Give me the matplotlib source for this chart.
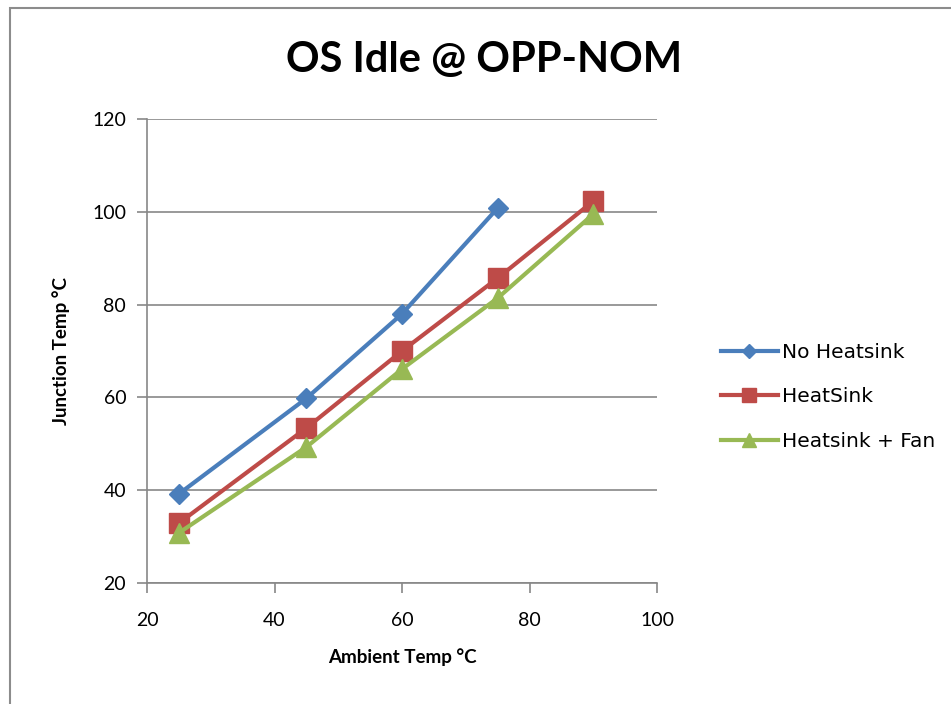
import matplotlib
matplotlib.use("Agg")
import matplotlib.pyplot as plt
from matplotlib.patches import Rectangle

ambient = [25, 45, 60, 75, 90]
no_heatsink = [39.2, 59.8, 78.0, 100.8]
heatsink = [32.9, 53.4, 70.0, 85.7, 102.3]
heatsink_fan = [30.8, 49.3, 66.1, 81.4, 99.5]
series_names = ["No Heatsink", "HeatSink", "Heatsink + Fan"]
x_ticks = [20, 40, 60, 80, 100]
y_ticks = [20, 40, 60, 80, 100, 120]

plt.rcParams['font.family'] = ['Lato', 'DejaVu Sans']

W, H = 951, 704
fig = plt.figure(figsize=(W/100, H/100), dpi=100)
fig.patches.append(Rectangle((10/W, -0.1), 1.2, 1 - 8/H + 0.1, transform=fig.transFigure,
                             fill=False, edgecolor='#8c8c8c', linewidth=1.5))

L, R, T, B = 147, 657, 119, 583
ax = fig.add_axes([L/W, 1 - B/H, (R-L)/W, (B-T)/H])

blue, red, green = '#4A7EBB', '#BE4B48', '#98B954'
ax.plot(ambient[:4], no_heatsink, color=blue, lw=3, marker='D', ms=10, label=series_names[0])
ax.plot(ambient, heatsink, color=red, lw=3, marker='s', ms=14, label=series_names[1])
ax.plot(ambient, heatsink_fan, color=green, lw=3, marker='^', ms=14, label=series_names[2])

ax.set_xlim(20, 100)
ax.set_ylim(20, 120)
ax.set_xticks(x_ticks)
ax.set_yticks(y_ticks)
ax.yaxis.grid(True, color='#878787', lw=1.2)
ax.set_axisbelow(True)
for s in ['top', 'right']:
    ax.spines[s].set_visible(False)
for s in ['left', 'bottom']:
    ax.spines[s].set_color('#878787')
    ax.spines[s].set_linewidth(1.2)
ax.tick_params(axis='both', colors='#878787', length=7, width=1.2, labelsize=14, labelcolor='black')
ax.tick_params(axis='y', pad=8)
ax.tick_params(axis='x', pad=14)

ax.set_xlabel('Ambient Temp °C', fontsize=13.5, fontweight='bold', labelpad=14)
ax.set_ylabel('Junction Temp °C', fontsize=13.5, fontweight='bold', labelpad=16)

fig.text(484/W, 1 - 60/H, 'OS Idle @ OPP-NOM', ha='center', va='center',
         fontsize=30, fontweight='bold')

leg = fig.legend(loc='center left', bbox_to_anchor=(703/W, 1 - 397/H), frameon=False,
                 prop={'family': 'DejaVu Sans', 'size': 14.5}, handlelength=2.8,
                 labelspacing=1.25, handletextpad=0.2, markerscale=0.7)

fig.savefig('out.png', dpi=100)
